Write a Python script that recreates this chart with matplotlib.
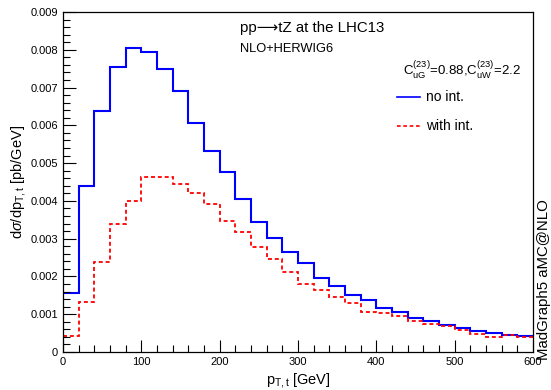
"""
pT,t distribution for pp -> tZ at the LHC13, NLO+HERWIG6
"""

import numpy as np
import matplotlib
matplotlib.use('Agg')
import matplotlib.pyplot as plt
from matplotlib.ticker import MultipleLocator

plt.rcParams['font.family'] = ['Liberation Sans', 'DejaVu Sans']
plt.rcParams['mathtext.fontset'] = 'custom'
plt.rcParams['mathtext.rm'] = 'Liberation Sans'
plt.rcParams['mathtext.it'] = 'Liberation Sans:italic'
plt.rcParams['mathtext.bf'] = 'Liberation Sans:bold'

# bin edges (GeV)
bin_edges = np.arange(0, 620, 20)

# no interference (pb/GeV)
no_int = [0.00157, 0.00439, 0.00637, 0.00754, 0.00806, 0.00794, 0.00749, 0.00692,
          0.00606, 0.00532, 0.00476, 0.00405, 0.00345, 0.00302, 0.00266, 0.00235,
          0.00197, 0.00174, 0.00150, 0.00137, 0.00117, 0.00105, 0.00091, 0.00083,
          0.00071, 0.00063, 0.00056, 0.00049, 0.00046, 0.00042]

# with interference (pb/GeV)
with_int = [0.00042, 0.00132, 0.00239, 0.00338, 0.00400, 0.00464, 0.00462, 0.00444,
            0.00422, 0.00392, 0.00347, 0.00318, 0.00279, 0.00246, 0.00213, 0.00181,
            0.00163, 0.00146, 0.00131, 0.00107, 0.00102, 0.00095, 0.00081, 0.00074,
            0.00070, 0.00057, 0.00048, 0.00041, 0.00045, 0.00041]

fig = plt.figure(figsize=(5.51, 3.9), dpi=100)
ax = fig.add_axes([63/551, 38/390, 470/551, 340/390])

ax.stairs(no_int, bin_edges, baseline=None, color='#0000ff', lw=1.5)
ax.stairs(with_int, bin_edges, baseline=None, color='#ff0000', lw=1.3,
          linestyle=(0, (2.2, 1.6)))

ax.set_xlim(0, 600)
ax.set_ylim(0, 0.009)

ax.xaxis.set_major_locator(MultipleLocator(100))
ax.xaxis.set_minor_locator(MultipleLocator(20))
ax.yaxis.set_major_locator(MultipleLocator(0.001))
ax.yaxis.set_minor_locator(MultipleLocator(0.0002))
ax.yaxis.set_major_formatter(plt.FuncFormatter(lambda v, p: '0' if v == 0 else f'{v:.3f}'))

ax.tick_params(which='both', direction='in', top=False, right=False, labelsize=8)
ax.tick_params(which='major', length=9, width=0.8)
ax.tick_params(which='minor', length=5, width=0.8)
for s in ax.spines.values():
    s.set_linewidth(0.9)

ax.set_ylabel(r'd$\sigma$/dp$_{\mathrm{T,t}}$ [pb/GeV]', fontsize=10.5)
ax.yaxis.set_label_coords(-0.074, 0.5)
ax.set_xlabel(r'p$_{\mathrm{T,t}}$ [GeV]', fontsize=10.5)
ax.xaxis.set_label_coords(0.50, -0.055)

# annotations
ax.text(0.377, 0.953, 'pp\u27f6tZ at the LHC13', transform=ax.transAxes,
        fontsize=10.8, va='center')
ax.text(0.377, 0.891, 'NLO+HERWIG6', transform=ax.transAxes, fontsize=9.3, va='center')
ax.text(0.975, 0.829, r'$\mathrm{C}^{(23)}_{\mathrm{uG}}$=0.88,$\mathrm{C}^{(23)}_{\mathrm{uW}}$=2.2',
        transform=ax.transAxes, fontsize=9.5, va='center', ha='right')

# legend
ax.plot([0.711, 0.760], [0.750, 0.750], transform=ax.transAxes, color='#0000ff', lw=1.2)
ax.text(0.772, 0.750, 'no int.', transform=ax.transAxes, fontsize=10, va='center')
ax.plot([0.711, 0.760], [0.665, 0.665], transform=ax.transAxes, color='#ff0000', lw=1.2,
        linestyle=(0, (2.2, 1.6)))
ax.text(0.772, 0.665, 'with int.', transform=ax.transAxes, fontsize=10, va='center')

fig.text(544/551, 30/390, 'MadGraph5 aMC@NLO', rotation=90, fontsize=10.8,
         ha='center', va='bottom')

fig.savefig('out.png', dpi=100, facecolor='white')
